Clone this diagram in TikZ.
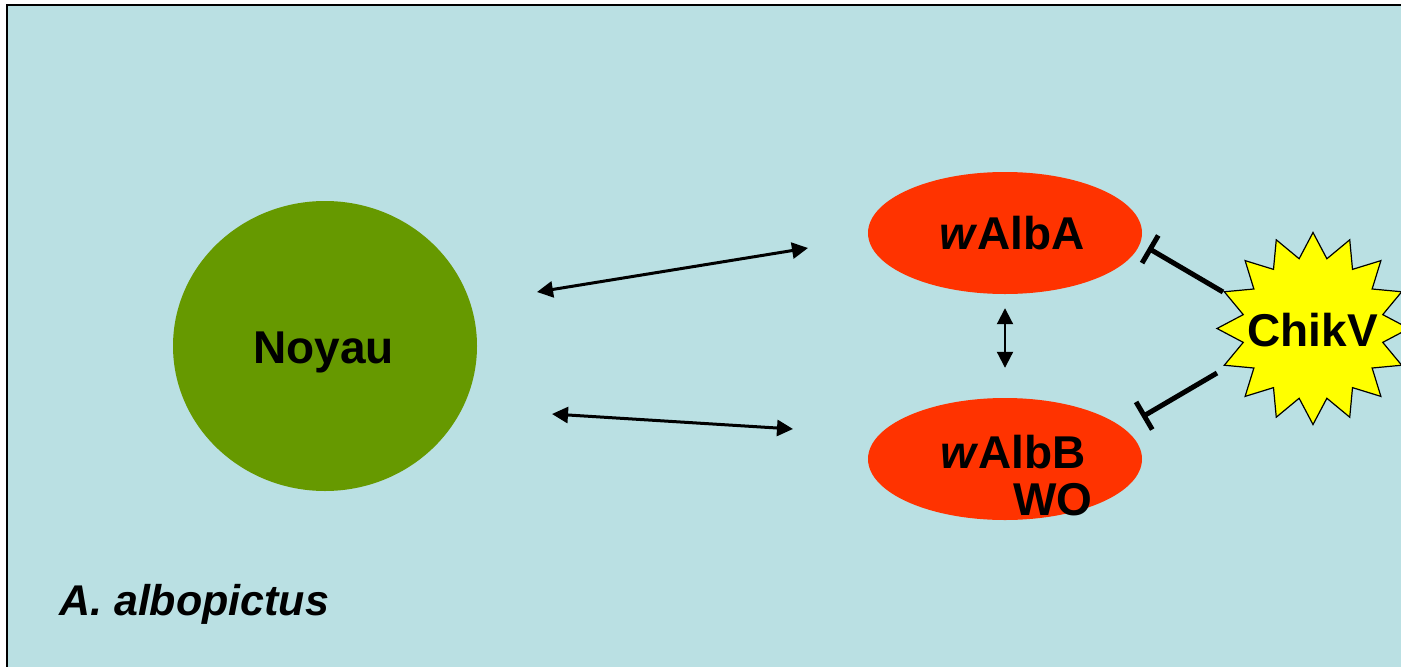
\documentclass[tikz,border=0pt]{standalone}
\usepackage{fontspec}
\setmainfont{Liberation Sans}
\usetikzlibrary{shapes.geometric,arrows.meta}
\definecolor{bg}{RGB}{186,224,227}
\definecolor{nucleus}{RGB}{102,153,0}
\definecolor{wolb}{RGB}{255,51,0}
\definecolor{virus}{RGB}{255,255,0}
\begin{document}
\begin{tikzpicture}[x=1pt,y=-1pt,
  lbl/.style={font=\fontsize{46}{47}\selectfont\bfseries, text=black, inner sep=0pt, text depth=0pt},
  oval/.style={ellipse, fill=wolb, minimum width=274pt, minimum height=122pt, inner sep=0pt},
  link/.style={line width=3pt, {Triangle[length=16pt,width=16pt]}-{Triangle[length=16pt,width=16pt]}},
  linkthin/.style={line width=2pt, {Triangle[length=16pt,width=16pt]}-{Triangle[length=16pt,width=16pt]}},
  block/.style={line width=5pt, -{Bar[width=32pt,line width=5pt]}}]
\useasboundingbox (0,0) rectangle (1401,667);
\begin{scope}
  \clip (0,0) rectangle (1401,667);
  \fill[bg] (7,5) rectangle (1420,690);
  \draw[line width=2pt] (7,690) -- (7,5) -- (1420,5);
  \node[star, star points=16, star point ratio=1.35, minimum size=192pt, inner sep=0pt,
        fill=virus, draw=black, line width=1.2pt] (S) at (1313,328.5) {};
  \node[lbl] (St) at (1312.5,329.5) {ChikV};
\end{scope}
\node[ellipse, fill=nucleus, minimum width=304pt, minimum height=290pt, inner sep=0pt] (N) at (325,346) {};
\node[lbl, anchor=base west] (Nt) at (253,363) {Noyau};
\node[oval] (A) at (1005,233) {};
\node[lbl, anchor=base west] (At) at (939,249) {\textit{w}AlbA};
\node[oval] (B) at (1005,459) {};
\node[lbl, anchor=base west, align=left] (Bt) at (940,515) {\textit{w}AlbB\\\hspace*{73pt}WO};
\node[font=\fontsize{43}{43}\selectfont\bfseries\itshape, anchor=base west, inner sep=0pt] (sp) at (59,615) {A. albopictus};
\coordinate (n1) at (537,292);
\coordinate (a1) at (808,248);
\coordinate (n2) at (552,414);
\coordinate (b1) at (793,429);
\coordinate (s1) at (1223,292);
\coordinate (a2) at (1148,248);
\coordinate (s2) at (1217,373);
\coordinate (b2) at (1142,417);
\draw[link] (n1) -- (a1);
\draw[link] (n2) -- (b1);
\draw[linkthin, shorten <=14pt, shorten >=30pt] (A) -- (B);
\draw[block] (s1) -- (a2);
\draw[block] (s2) -- (b2);
\end{tikzpicture}
\end{document}
